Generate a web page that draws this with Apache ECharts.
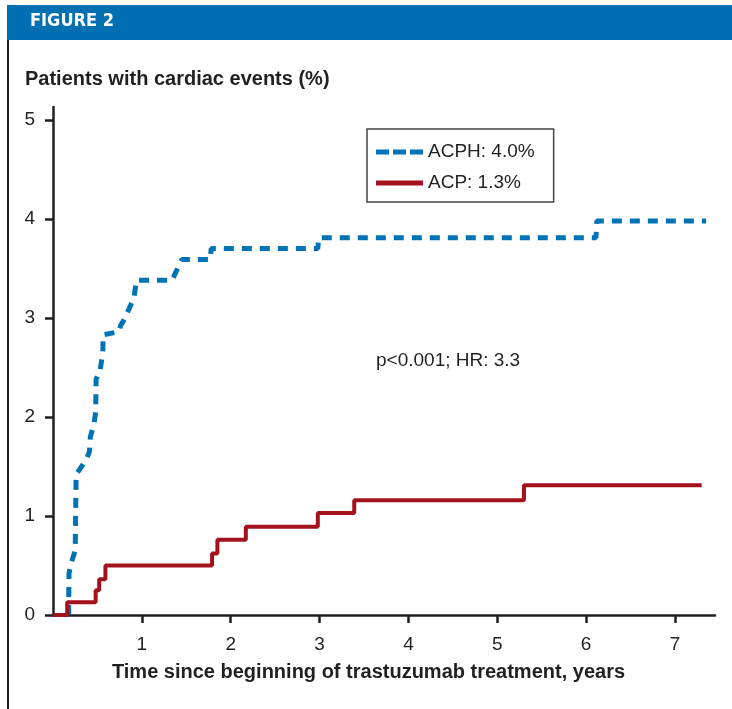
<!DOCTYPE html>
<html>
<head>
<meta charset="utf-8">
<script src="https://cdn.jsdelivr.net/npm/echarts@6/dist/echarts.min.js"></script>
<style>
    body { margin: 0; background: #fff; }
    #chart { width: 732px; height: 709px; }
</style>
</head>
<body>
<div id="chart"></div>
<script>
// data (years, % of patients)
let acphX = [0.175, 0.18, 0.21, 0.25, 0.26, 0.3, 0.38, 0.41, 0.42, 0.46, 0.48, 0.485, 0.53, 0.56, 0.565, 0.74, 0.76, 0.81, 0.86, 0.91, 0.94, 1.34, 1.45, 1.77, 1.78, 2.98, 2.99, 6.11, 6.12, 7.35]
let acphY = [0, 0.42, 0.54, 0.65, 1.42, 1.47, 1.58, 1.65, 1.8, 1.92, 2.05, 2.38, 2.47, 2.65, 2.83, 2.86, 2.92, 3.0, 3.1, 3.2, 3.38, 3.38, 3.59, 3.59, 3.7, 3.7, 3.81, 3.81, 3.98, 3.98]
let acpX = [0, 0.16, 0.48, 0.52, 0.59, 1.79, 1.85, 2.17, 2.98, 3.39, 5.3, 7.3]
let acpY = [0, 0.13, 0.25, 0.36, 0.5, 0.62, 0.76, 0.89, 1.03, 1.16, 1.31, 1.31]
let xTicks = [1, 2, 3, 4, 5, 6, 7]
let yTicks = [0, 1, 2, 3, 4, 5]
let names = ['ACPH: 4.0%', 'ACP: 1.3%']

let blue = '#0072b6'
let red = '#a3111c'
let ink = '#231f20'
let font = '"Liberation Sans", Arial, sans-serif'

let pairs = (xs, ys) => xs.map((x, i) => [x, ys[i]])

let myChart = echarts.init(document.getElementById('chart'))
let option = {
    animation: false,
    backgroundColor: '#fff',
    textStyle: { fontFamily: font },
    title: [
        {
            text: 'FIGURE 2',
            left: 30, top: 12, padding: 0,
            textStyle: { color: '#fff', fontSize: 18, fontWeight: 'bold', fontFamily: '"DejaVu Sans Condensed", sans-serif' }
        },
        {
            text: 'Patients with cardiac events (%)',
            left: 25, top: 69, padding: 0,
            textStyle: { color: ink, fontSize: 20, fontWeight: 'bold', fontFamily: font }
        }
    ],
    graphic: [
        { type: 'rect', shape: { x: 7, y: 5, width: 725, height: 35 }, style: { fill: '#0070b2' }, z: -1 },
        { type: 'line', shape: { x1: 8, y1: 40, x2: 8, y2: 709 }, style: { stroke: ink, lineWidth: 2 } },
        { type: 'text', x: 376, y: 351, style: { text: 'p<0.001; HR: 3.3', fill: ink, fontSize: 19, fontFamily: font } }
    ],
    legend: {
        orient: 'vertical',
        left: 367, top: 129,
        padding: [12, 19, 8, 9],
        itemGap: 9,
        itemWidth: 47, itemHeight: 5,
        itemTextGap: 6,
        borderColor: '#444', borderWidth: 1.5,
        textStyle: { fontSize: 19, color: ink, lineHeight: 22, fontFamily: font },
        data: [
            { name: names[0], icon: 'path://M0,0h13v5h-13z M17,0h13v5h-13z M34,0h13v5h-13z' },
            { name: names[1], icon: 'rect' }
        ]
    },
    grid: { left: 53, right: 17, top: 107, bottom: 94 },
    xAxis: {
        type: 'value',
        min: 0, max: 7.45,
        name: 'Time since beginning of trastuzumab treatment, years',
        nameLocation: 'middle',
        nameGap: 47,
        nameTextStyle: { color: ink, fontSize: 20, fontWeight: 'bold', padding: [0, 31, 0, 0] },
        splitLine: { show: false },
        axisLine: { lineStyle: { color: ink, width: 2.5 } },
        axisTick: { customValues: xTicks, length: 8, lineStyle: { color: ink, width: 2.5 } },
        axisLabel: { customValues: xTicks, color: ink, fontSize: 19, margin: 20 }
    },
    yAxis: {
        type: 'value',
        min: 0, max: 5.13,
        splitLine: { show: false },
        axisLine: { show: true, lineStyle: { color: ink, width: 2.5 } },
        axisTick: { show: true, customValues: yTicks, length: 8, lineStyle: { color: ink, width: 2.5 } },
        axisLabel: { customValues: yTicks, color: ink, fontSize: 19, margin: 18 }
    },
    series: [
        {
            name: names[0],
            type: 'line',
            data: pairs(acphX, acphY),
            symbol: 'none',
            z: 3,
            itemStyle: { color: blue },
            lineStyle: { color: blue, width: 5, type: [10, 8] }
        },
        {
            name: names[1],
            type: 'line',
            step: 'end',
            data: pairs(acpX, acpY),
            symbol: 'none',
            z: 4,
            itemStyle: { color: red },
            lineStyle: { color: red, width: 4 }
        }
    ]
}
myChart.setOption(option)
</script>
</body>
</html>
